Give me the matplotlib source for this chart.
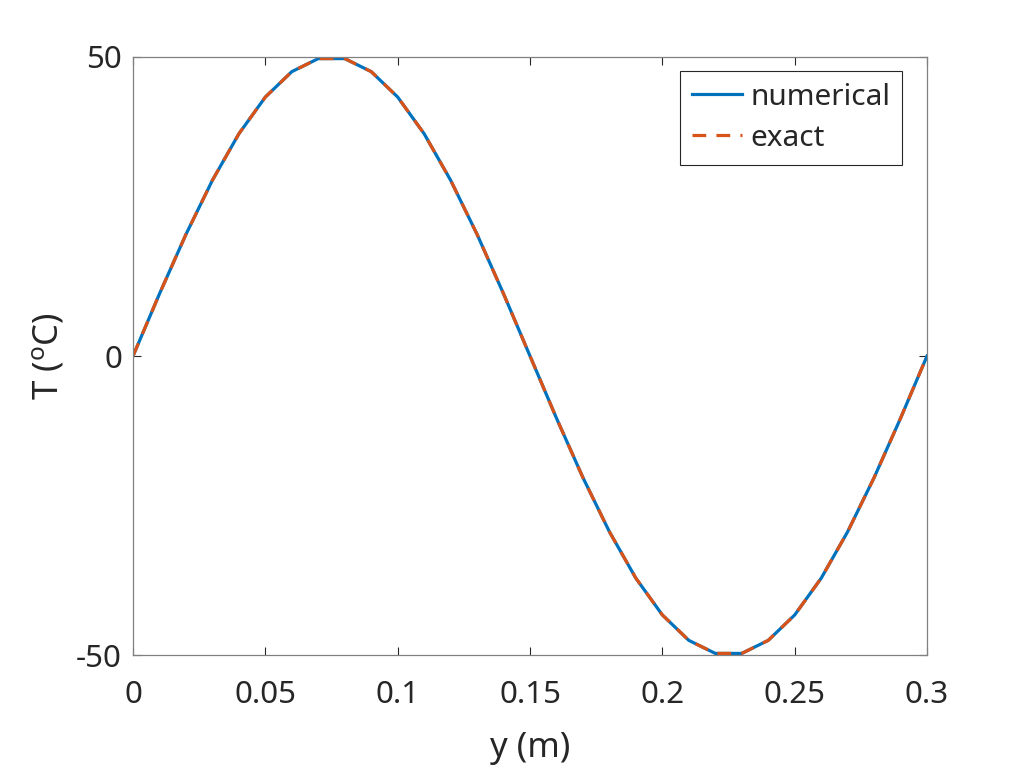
import matplotlib
matplotlib.use("Agg")
import matplotlib.pyplot as plt

plt.rcParams['font.family'] = ['Noto Sans', 'DejaVu Sans']
plt.rcParams['mathtext.fontset'] = 'custom'
plt.rcParams['mathtext.rm'] = 'Noto Sans'
plt.rcParams['mathtext.it'] = 'Noto Sans:italic'
plt.rcParams['axes.unicode_minus'] = False

y_m = [0.00, 0.01, 0.02, 0.03, 0.04, 0.05, 0.06, 0.07, 0.08, 0.09, 0.10,
       0.11, 0.12, 0.13, 0.14, 0.15, 0.16, 0.17, 0.18, 0.19, 0.20,
       0.21, 0.22, 0.23, 0.24, 0.25, 0.26, 0.27, 0.28, 0.29, 0.30]
T_numerical = [0.0, 10.4, 20.34, 29.39, 37.16, 43.3, 47.55, 49.73, 49.73, 47.55, 43.3,
               37.16, 29.39, 20.34, 10.4, 0.0, -10.4, -20.34, -29.39, -37.16, -43.3,
               -47.55, -49.73, -49.73, -47.55, -43.3, -37.16, -29.39, -20.34, -10.4, 0.0]
T_exact = [0.0, 10.4, 20.34, 29.39, 37.16, 43.3, 47.55, 49.73, 49.73, 47.55, 43.3,
           37.16, 29.39, 20.34, 10.4, 0.0, -10.4, -20.34, -29.39, -37.16, -43.3,
           -47.55, -49.73, -49.73, -47.55, -43.3, -37.16, -29.39, -20.34, -10.4, 0.0]
x_ticks = [0, 0.05, 0.1, 0.15, 0.2, 0.25, 0.3]
x_ticklabels = ['0', '0.05', '0.1', '0.15', '0.2', '0.25', '0.3']
y_ticks = [-50, 0, 50]
y_ticklabels = ['-50', '0', '50']

fig = plt.figure(figsize=(10.24, 7.68), dpi=100)
ax = fig.add_axes([0.1299, 0.1471, 0.7754, 0.7787])
ax.plot(y_m, T_numerical, color='#0072BD', lw=2.3, label='numerical')
ax.plot(y_m, T_exact, color='#D95319', lw=2.3, ls=(0, (4.3, 3.2)), label='exact')
ax.set_xlim(0, 0.3)
ax.set_ylim(-50, 50)
ax.set_xticks(x_ticks)
ax.set_xticklabels(x_ticklabels)
ax.set_yticks(y_ticks)
ax.set_yticklabels(y_ticklabels)
axc = '#262626'
ax.tick_params(direction='in', top=True, right=True, length=6, width=0.8,
               colors=axc, labelsize=22.5)
ax.tick_params(axis='x', pad=18)
ax.tick_params(axis='y', pad=8)
for s in ax.spines.values():
    s.set_color('#808080')
    s.set_linewidth(0.9)
ax.set_xlabel('y (m)', fontsize=25, color=axc, labelpad=15)
ax.set_ylabel('T ($^{\\mathrm{o}}$C)', fontsize=25, color=axc, labelpad=7)
leg = ax.legend(loc='upper right', bbox_to_anchor=(0.9685, 0.9766), fontsize=21.5,
                frameon=True, fancybox=False, edgecolor='#262626', framealpha=1,
                handlelength=1.67, handletextpad=0.27, borderpad=0.4, labelspacing=0.4,
                borderaxespad=0)
leg.get_frame().set_linewidth(0.8)
for t in leg.get_texts():
    t.set_color(axc)
fig.savefig('out.png', dpi=100)
